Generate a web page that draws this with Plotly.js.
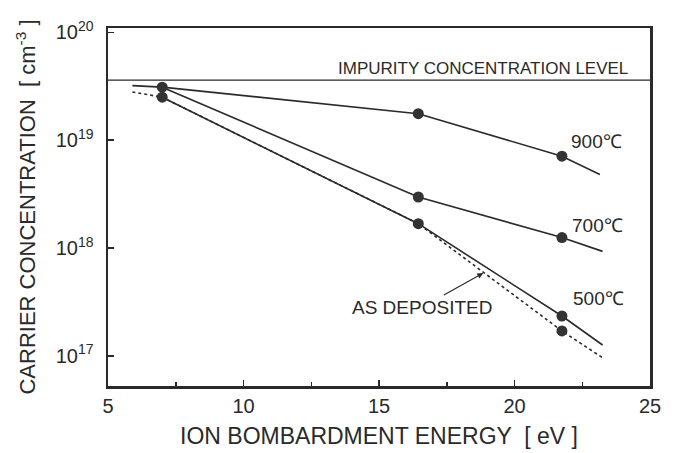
<!DOCTYPE html>
<html><head><meta charset="utf-8">
<script src="https://cdn.plot.ly/plotly-3.0.1.min.js"></script>
<style>body{margin:0;background:#fff}#c{width:676px;height:453px}</style>
</head><body><div id="c"></div>
<script>
// Data
const impurityX = [5, 25];
const impurityY = [3.6e19, 3.6e19];

const x900 = [5.9, 7, 16.45, 21.75, 23.15];
const y900 = [3.2e19, 3.1e19, 1.76e19, 7.1e18, 4.8e18];

const x700 = [7, 16.45, 21.75, 23.25];
const y700 = [3.1e19, 2.97e18, 1.25e18, 9.3e17];

const x500 = [7, 16.45, 21.75, 23.25];
const y500 = [2.5e19, 1.68e18, 2.34e17, 1.26e17];

const xDep = [5.9, 7, 16.45, 21.75, 23.25];
const yDep = [2.8e19, 2.5e19, 1.68e18, 1.7e17, 9.6e16];

const ptsX = [7, 7, 16.45, 21.75, 16.45, 21.75, 16.45, 21.75, 21.75];
const ptsY = [3.1e19, 2.5e19, 1.76e19, 7.1e18, 2.97e18, 1.25e18, 1.68e18, 2.34e17, 1.7e17];

const yTickVals = [1e17, 1e18, 1e19, 1e20];
const yTickText = ['10<sup>17</sup>', '10<sup>18</sup>', '10<sup>19</sup>', '10<sup>20</sup>'];
const xTickVals = [5, 10, 15, 20, 25];
const xMinorVals = [7.5, 12.5, 17.5, 22.5];

const ink = '#2a2a2a';
const font = 'Liberation Sans, Arial, sans-serif';

const line = (x, y, dash) => ({x, y, type: 'scatter', mode: 'lines',
  line: {color: ink, width: 1.6, dash: dash || 'solid'}, hoverinfo: 'skip'});

const traces = [
  {x: impurityX, y: impurityY, type: 'scatter', mode: 'lines', line: {color: ink, width: 1.2}},
  line(x900, y900), line(x700, y700), line(x500, y500), line(xDep, yDep, 'dot'),
  {x: ptsX, y: ptsY, type: 'scatter', mode: 'markers', marker: {color: '#333', size: 11}}
];

const layout = {
  width: 676, height: 453, showlegend: false,
  paper_bgcolor: '#fff', plot_bgcolor: '#fff',
  margin: {l: 108, r: 26, t: 28, b: 67},
  font: {family: font, color: ink, size: 18},
  xaxis: {
    range: [5, 25], tickvals: xTickVals, ticks: 'inside', ticklen: 6, tickwidth: 1.5,
    tickcolor: ink, showline: true, mirror: true, linewidth: 2.5, linecolor: ink,
    showgrid: false, zeroline: false, tickfont: {size: 20},
    minor: {tickvals: xMinorVals, ticks: 'inside', ticklen: 4, tickcolor: ink},
    title: {text: 'ION BOMBARDMENT ENERGY  [ eV ]', font: {size: 23}, standoff: 13}
  },
  yaxis: {
    type: 'log', range: [16.72, 20.04], tickvals: yTickVals, ticktext: yTickText,
    ticks: 'inside', ticklen: 6, tickwidth: 1.5, tickcolor: ink, ticklabelstandoff: 8,
    showline: true, mirror: true, linewidth: 2.5, linecolor: ink,
    showgrid: false, zeroline: false, tickfont: {size: 20},
    title: {text: 'CARRIER CONCENTRATION  [ cm<sup>-3</sup> ]', font: {size: 22}, standoff: 14}
  },
  annotations: [
    {x: 24.26, y: Math.log10(3.6e19), xanchor: 'right', yanchor: 'bottom', text: 'IMPURITY CONCENTRATION LEVEL',
     showarrow: false, font: {size: 17}, yshift: 0},
    {x: 22.0, y: Math.log10(9.8e18), xanchor: 'left', text: '900℃', showarrow: false, font: {size: 19}},
    {x: 22.05, y: Math.log10(1.6e18), xanchor: 'left', text: '700℃', showarrow: false, font: {size: 19}},
    {x: 22.1, y: Math.log10(3.37e17), xanchor: 'left', text: '500℃', showarrow: false, font: {size: 19}},
    {x: 18.85, y: Math.log10(5.85e17), text: 'AS DEPOSITED', showarrow: true,
     arrowhead: 2, arrowsize: 1, arrowwidth: 1.2, arrowcolor: ink,
     ax: -61, ay: 34, font: {size: 19}}
  ]
};

Plotly.newPlot('c', traces, layout, {staticPlot: true, displayModeBar: false});
</script></body></html>
